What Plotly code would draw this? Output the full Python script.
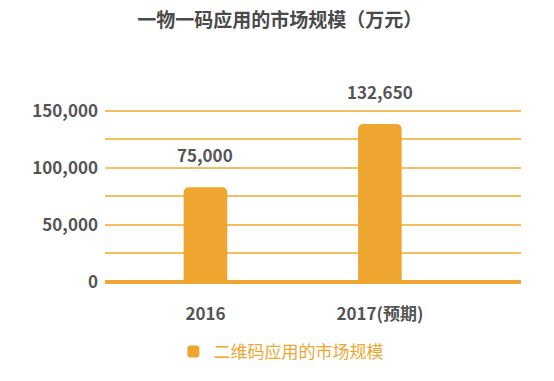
import plotly.graph_objects as go

categories = ["2016", "2017(预期)"]
bar_heights = [83000, 138300]          # bar heights as drawn in the picture
label_texts = ["75,000", "132,650"]    # data labels printed above the bars
series_name = "二维码应用的市场规模"
title_text = "一物一码应用的市场规模（万元）"
tick_vals = [0, 25000, 50000, 75000, 100000, 125000, 150000]
tick_text = ["0", "", "50,000", "", "100,000", "", "150,000"]

BAR = "#EEA630"
GRID = "#F5BE5E"
TXT = "#555555"
FONT = "Noto Sans CJK SC"

fig = go.Figure()
fig.add_trace(go.Bar(
    x=categories, y=bar_heights, name=series_name,
    marker=dict(color=BAR, cornerradius=5, line=dict(width=0)),
    width=0.25, showlegend=True, hoverinfo="skip",
))

for i, (v, t) in enumerate(zip(bar_heights, label_texts)):
    fig.add_annotation(x=i, y=v, xref="x", yref="y", text=t, showarrow=False,
                       yshift=33,
                       font=dict(family=FONT, size=17, color=TXT, weight="bold"))

fig.update_layout(
    width=554, height=381,
    margin=dict(l=105, r=33, t=109, b=99, autoexpand=False),
    paper_bgcolor="white", plot_bgcolor="white",
    title=dict(text="<b>" + title_text + "</b>", x=0.505, xanchor="center",
               xref="container", yref="container",
               y=0.947, yanchor="middle",
               font=dict(family=FONT, size=19, color="#4a4a4a")),
    font=dict(family=FONT, color=TXT),
    showlegend=True,
    legend=dict(orientation="h", xref="container", yref="container",
                x=0.313, y=0.076, xanchor="left", yanchor="middle",
                font=dict(family=FONT, size=17, color=BAR),
                itemclick=False),
    xaxis=dict(type="category", range=[-0.576, 1.809], showgrid=False, showline=False,
               ticks="", tickfont=dict(family=FONT, size=17, color=TXT, weight="bold"),
               ticklabelstandoff=20),
    yaxis=dict(range=[0, 151500], tickvals=tick_vals, ticktext=tick_text,
               showgrid=True, gridcolor=GRID, gridwidth=2,
               zeroline=True, zerolinecolor=BAR, zerolinewidth=4,
               showline=False, ticks="",
               tickfont=dict(family=FONT, size=17, color=TXT, weight="bold"),
               ticklabelstandoff=6),
)

fig.write_html("out.html", config={"displayModeBar": False},
               post_script="document.body.style.margin='0';document.body.style.padding='0';")
